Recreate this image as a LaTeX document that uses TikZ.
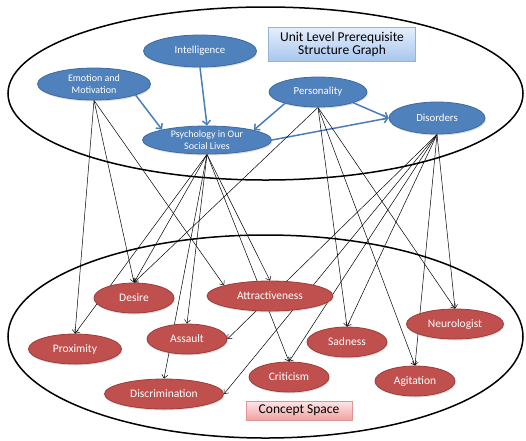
\documentclass[tikz,border=0pt]{standalone}
\usepackage{fontspec}
\setmainfont{Carlito}
\usetikzlibrary{shapes.geometric,arrows.meta,shadows}
\definecolor{nodeblue}{HTML}{4F81BD}
\definecolor{nodeblueline}{HTML}{3E6A9F}
\definecolor{nodered}{HTML}{C0504D}
\definecolor{noderedline}{HTML}{9B3D3A}
\definecolor{arrowblue}{HTML}{4A7EBB}
\definecolor{titletop}{HTML}{E6EFFC}
\definecolor{titlebot}{HTML}{A8C6EF}
\definecolor{titleline}{HTML}{95B3D7}
\definecolor{cstop}{HTML}{FDE6E6}
\definecolor{csbot}{HTML}{F2A2A2}
\definecolor{csline}{HTML}{DE9595}
\pgfdeclarelayer{bg}
\pgfsetlayers{bg,main}
\tikzset{
  topic/.style={ellipse, draw=nodeblueline, fill=nodeblue, line width=0.8pt, inner sep=0pt,
    drop shadow={opacity=0.25, shadow xshift=0.8pt, shadow yshift=-1.5pt}},
  topictext/.style={text=white, font=\fontsize{10.8}{12}\selectfont, align=center, inner sep=0pt},
  topictwo/.style={text=white, font=\fontsize{10}{12}\selectfont, align=center, inner sep=0pt},
  concept/.style={ellipse, draw=noderedline, fill=nodered, line width=0.8pt, inner sep=0pt,
    minimum height=30pt, drop shadow={opacity=0.25, shadow xshift=0.8pt, shadow yshift=-1.5pt}},
  concepttext/.style={text=white, font=\fontsize{11.5}{13}\selectfont, inner sep=0pt},
  titlebox/.style={rectangle, draw=titleline, line width=0.8pt, top color=titletop, bottom color=titlebot,
    inner sep=0pt, align=center, font=\fontsize{13.5}{12.8}\selectfont,
    drop shadow={opacity=0.2, shadow xshift=0.8pt, shadow yshift=-1.2pt}},
  csbox/.style={rectangle, draw=csline, line width=0.8pt, top color=cstop, bottom color=csbot,
    inner sep=0pt, font=\fontsize{13.5}{14}\selectfont,
    drop shadow={opacity=0.2, shadow xshift=0.8pt, shadow yshift=-1.2pt}},
  region/.style={line width=1.5pt, draw=black},
  prereq/.style={draw=arrowblue, line width=1.5pt, -{Straight Barb[length=4pt,width=8pt]}},
  link/.style={draw=black, line width=0.5pt, -{Straight Barb[length=3.5pt,width=6pt]}},
}
\begin{document}
\begin{tikzpicture}[x=1pt,y=-1pt]
\useasboundingbox (0,0) rectangle (526,440);

% unit level topics
\node[topic, minimum width=113pt, minimum height=32pt, label={[topictext]center:Intelligence}] (int) at (200,51) {};
\node[topic, minimum width=113pt, minimum height=32pt, label={[topictwo]center:{Emotion and\\Motivation}}] (emo) at (94,84) {};
\node[topic, minimum width=98pt, minimum height=30pt, label={[topictext]center:Personality}] (per) at (318,92) {};
\node[topic, minimum width=129pt, minimum height=28pt, label={[topictwo]center:{Psychology in Our\\Social Lives}}] (psy) at (207,140) {};
\node[topic, minimum width=96pt, minimum height=32pt, label={[topictext]center:Disorders}] (dis) at (437,118) {};
\node[titlebox, minimum width=147pt, minimum height=34pt] (title) at (342,44) {Unit Level Prerequisite\\Structure Graph};

% concepts
\node[concept, minimum width=80pt, label={[concepttext]center:Desire}] (des) at (134,298) {};
\node[concept, minimum width=126pt, label={[concepttext]center:Attractiveness}] (att) at (270,296) {};
\node[concept, minimum width=93pt, label={[concepttext]center:Proximity}] (prox) at (75,349) {};
\node[concept, minimum width=80pt, label={[concepttext]center:Assault}] (ass) at (187,339) {};
\node[concept, minimum width=80pt, label={[concepttext]center:Sadness}] (sad) at (347,342) {};
\node[concept, minimum width=97pt, label={[concepttext]center:Neurologist}] (neu) at (455,324) {};
\node[concept, minimum width=80pt, label={[concepttext]center:Criticism}] (crit) at (289,377) {};
\node[concept, minimum width=80pt, label={[concepttext]center:Agitation}] (agi) at (415,381) {};
\node[concept, minimum width=119pt, label={[concepttext]center:Discrimination}] (disc) at (164,394) {};
\node[csbox, minimum width=106pt, minimum height=19pt] (cs) at (299,410.5) {Concept Space};

\begin{pgfonlayer}{bg}
  \draw[region] (265.5,93.5) ellipse [x radius=257.5, y radius=86.5];
  \draw[region] (265.5,336.5) ellipse [x radius=257.5, y radius=101.5];

  % prerequisite arrows between topics
  \draw[prereq] (emo.-15) -- (psy.167);
  \draw[prereq] (int.south) -- (psy.north);
  \draw[prereq] (per.-161) -- (psy.12);
  \draw[prereq] (per.-17) -- (dis.west);
  \draw[prereq] (psy.east) -- (dis.west);

  % links from topics to concepts
  \draw[link] (emo.south) -- (prox.north);
  \draw[link] (emo.south) -- (des.north);
  \draw[link] (emo.south) -- (att.167);

  \draw[link] (psy.south) -- (prox.north);
  \draw[link] (psy.south) -- (des.north);
  \draw[link] (psy.south) -- (disc.north);
  \draw[link] (psy.south) -- (ass.north);
  \draw[link] (psy.south) -- (crit.north);
  \draw[link] (psy.south) -- (att.north);

  \draw[link] (per.south) -- (des.north);
  \draw[link] (per.south) -- (sad.north);
  \draw[link] (per.south) -- (agi.north);
  \draw[link] (per.south) -- (neu.north);

  \draw[link] (dis.south) -- (ass.east);
  \draw[link] (dis.south) -- (disc.east);
  \draw[link] (dis.south) -- (crit.north);
  \draw[link] (dis.south) -- (sad.north);
  \draw[link] (dis.south) -- (agi.north);
  \draw[link] (dis.south) -- (neu.north);
\end{pgfonlayer}
\end{tikzpicture}
\end{document}
